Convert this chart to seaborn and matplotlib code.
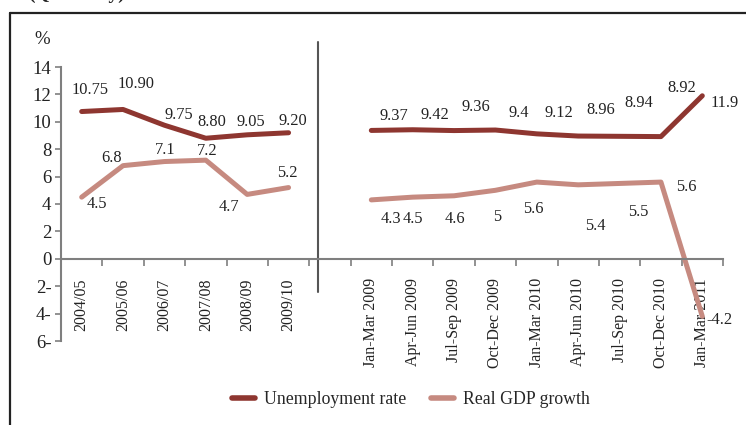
import numpy as np
import pandas as pd
import matplotlib
matplotlib.use("Agg")
import matplotlib.pyplot as plt
import seaborn as sns
from matplotlib.lines import Line2D

# ---------------- data ----------------
categories = ["2004/05", "2005/06", "2006/07", "2007/08", "2008/09", "2009/10", "",
              "Jan-Mar 2009", "Apr-Jun 2009", "Jul-Sep 2009", "Oct-Dec 2009",
              "Jan-Mar 2010", "Apr-Jun 2010", "Jul-Sep 2010", "Oct-Dec 2010",
              "Jan-Mar 2011"]
periods = ["annual"] * 6 + ["gap"] + ["quarterly"] * 9
unemployment = [10.75, 10.90, 9.75, 8.80, 9.05, 9.20, np.nan,
                9.37, 9.42, 9.36, 9.4, 9.12, 8.96, 8.94, 8.92, 11.9]
unemployment_labels = ["10.75", "10.90", "9.75", "8.80", "9.05", "9.20", "",
                       "9.37", "9.42", "9.36", "9.4", "9.12", "8.96", "8.94", "8.92", "11.9"]
gdp = [4.5, 6.8, 7.1, 7.2, 4.7, 5.2, np.nan,
       4.3, 4.5, 4.6, 5, 5.6, 5.4, 5.5, 5.6, -4.2]
gdp_labels = ["4.5", "6.8", "7.1", "7.2", "4.7", "5.2", "",
              "4.3", "4.5", "4.6", "5", "5.6", "5.4", "5.5", "5.6", "-4.2"]
series_names = ["Unemployment rate", "Real GDP growth"]
ytick_values = [-6, -4, -2, 0, 2, 4, 6, 8, 10, 12, 14]
ytick_labels = ["6-", "4-", "2-", "0", "2", "4", "6", "8", "10", "12", "14"]

# label offsets (pixels) - styling only
u_off = [(8, 22), (13, 25), (14, 10), (6, 16), (4, 13), (4, 12), (0, 0),
         (23, 14), (22, 15), (22, 24), (23, 17), (22, 21), (23, 26), (19, 33), (21, 49), (22, -7)]
g_off = [(15, -7), (-12, 8), (1, 12), (1, 9), (-18, -13), (-1, 15), (0, 0),
         (20, -19), (0, -22), (1, -23), (2, -27), (-3, -27), (17, -41), (19, -29), (25, -5), (17, -4)]

colors = {"Unemployment rate": "#8E3630", "Real GDP growth": "#C68A80"}

pos = np.arange(len(categories))
df = pd.concat([
    pd.DataFrame({"pos": pos, "value": unemployment, "series": series_names[0], "period": periods}),
    pd.DataFrame({"pos": pos, "value": gdp, "series": series_names[1], "period": periods}),
]).dropna()

sns.set_style("white")
plt.rcParams["font.family"] = ["Liberation Serif", "DejaVu Serif"]

fig = plt.figure(figsize=(7.46, 4.25), dpi=100)
ax = fig.add_axes([61 / 746, 1 - 341 / 425, 662 / 746, 274 / 425])

sns.lineplot(data=df, x="pos", y="value", hue="series", units="period", estimator=None,
             palette=colors, linewidth=3.6, ax=ax, legend=False, sort=True)
for ln in ax.lines:
    ln.set_solid_capstyle("round")
    ln.set_solid_joinstyle("round")

ax.set_xlim(-0.5, len(categories) - 0.5)
ax.set_ylim(-6, 14)

# data labels
for i in range(len(categories)):
    if unemployment_labels[i]:
        ax.annotate(unemployment_labels[i], (pos[i], unemployment[i]), xytext=u_off[i],
                    textcoords="offset pixels", ha="center", va="center", fontsize=11.8,
                    color="#222222")
    if gdp_labels[i]:
        ax.annotate(gdp_labels[i], (pos[i], gdp[i]), xytext=g_off[i],
                    textcoords="offset pixels", ha="center", va="center", fontsize=11.8,
                    color="#222222")

# axes styling
axis_col = "#7f7f7f"
for s in ["top", "right"]:
    ax.spines[s].set_visible(False)
ax.spines["bottom"].set_position(("data", 0))
ax.spines["bottom"].set_color(axis_col)
ax.spines["left"].set_color(axis_col)
ax.spines["bottom"].set_linewidth(1.5)
ax.spines["left"].set_linewidth(1.5)

ax.set_yticks(ytick_values)
ax.set_yticklabels(ytick_labels, fontsize=13.5, color="#222222")
ax.tick_params(axis="y", direction="out", length=4, width=1.2, color=axis_col, left=True, pad=3)

ax.set_xticks(pos)
ax.set_xticklabels(categories, rotation=90, fontsize=11.5, color="#222222", va="top")
ax.tick_params(axis="x", which="major", length=0, pad=14)
ax.set_xticks(np.arange(-0.5, len(categories)), minor=True)
ax.tick_params(axis="x", which="minor", direction="out", length=5, width=1.2, color=axis_col, bottom=True)
ax.set_xlabel("")
ax.set_ylabel("")

# divider between annual and quarterly sections
div_x = 5.71
ax.plot([div_x, div_x], [-2.45, 15.85], color="#555555", lw=1.5, clip_on=False, zorder=1)

# % label
fig.text(42 / 746, 1 - 40 / 425, "%", fontsize=13.5, ha="center", va="center", color="#222222")

# outer frame
fig.add_artist(Line2D([10 / 746, 1.0], [1 - 13 / 425, 1 - 13 / 425], transform=fig.transFigure,
                      color="#222222", lw=1.6))
fig.add_artist(Line2D([10 / 746, 10 / 746], [1 - 13 / 425, 0.0], transform=fig.transFigure,
                      color="#222222", lw=1.6))

# partially visible heading above frame (only descenders show)
fig.text(125 / 746, 1 + 1 / 425, "(Quarterly)", fontsize=14, fontweight="bold", ha="right",
         va="baseline", color="#222222")

# legend
handles = [Line2D([], [], color=colors[n], lw=4, solid_capstyle="round") for n in series_names]
fig.legend(handles, series_names, loc="center", bbox_to_anchor=(411 / 746, 1 - 400 / 425), ncol=2,
           frameon=False, fontsize=12.8, handlelength=1.3, columnspacing=1.4, handletextpad=0.5)

fig.savefig("out.png", dpi=100)
